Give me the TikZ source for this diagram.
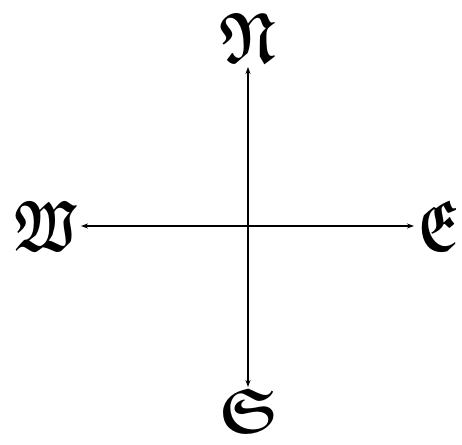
\documentclass[tikz,border=0pt]{standalone}
\usepackage{amsfonts}
\usepackage{graphicx}
\usetikzlibrary{arrows.meta}
\begin{document}
\begin{tikzpicture}[x=1pt,y=-1pt,
  dir/.style={font=\usefont{U}{euf}{b}{n}\fontsize{72}{72}\selectfont, inner sep=0pt},
  axis/.style={line width=1.1pt, -{Stealth[length=7pt,width=5pt]}, shorten >=4pt}]
\useasboundingbox (0,0) rectangle (462,444);
\coordinate (c) at (248,226);
\node[dir, anchor=south] (N) at (248,63) {\scalebox{0.8}[1]{N}};
\node[dir, anchor=north] (S) at (248,388) {\scalebox{0.85}[0.88]{S}};
\node[dir, anchor=east] (W) at (77,226) {\scalebox{0.7}[1]{W}};
\node[dir, anchor=west] (E) at (418,226) {\scalebox{0.72}[1]{E}};
\draw[axis] (c) -- (N);
\draw[axis, shorten >=1pt] (c) -- (S);
\draw[axis] (c) -- (W);
\draw[axis] (c) -- (E);
\end{tikzpicture}
\end{document}
